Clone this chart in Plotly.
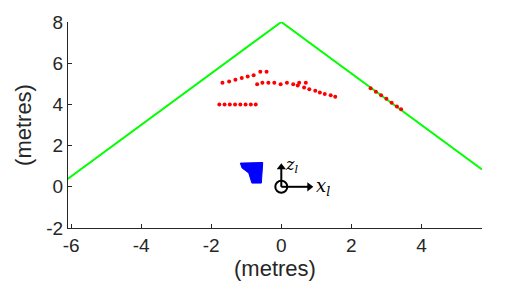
import plotly.graph_objects as go

# Green boundary line
wall_x = [-6.1, 0.0, 5.73]
wall_y = [0.38, 8.0, 0.84]

# Red points
arc1_x = [-1.68, -1.49, -1.31, -1.13, -0.96, -0.79, -0.60, -0.42]
arc1_y = [5.05, 5.11, 5.20, 5.28, 5.36, 5.42, 5.59, 5.59]
arc2_x = [-0.69, -0.54, -0.37, -0.20, -0.02, 0.16, 0.34, 0.51, 0.70,
          0.47, 0.65, 0.80, 0.97, 1.10, 1.24, 1.41, 1.54]
arc2_y = [4.98, 5.05, 5.05, 5.05, 4.98, 5.05, 4.98, 5.05, 5.05,
          4.92, 4.82, 4.74, 4.66, 4.58, 4.51, 4.45, 4.37]
row3_x = [-1.77, -1.62, -1.47, -1.32, -1.17, -1.02, -0.87, -0.73]
row3_y = [3.99, 3.99, 3.99, 3.99, 3.99, 3.99, 3.99, 3.99]
diag_x = [2.55, 2.70, 2.85, 3.00, 3.15, 3.30, 3.42]
diag_y = [4.78, 4.62, 4.45, 4.27, 4.08, 3.90, 3.76]

# Blue polygon
blob_x = [-1.17, -0.53, -0.57, -0.84, -0.93, -1.12, -1.17]
blob_y = [1.15, 1.18, 0.18, 0.18, 0.67, 0.91, 1.15]

# Local frame
frame_origin = (0.0, 0.0)
x_axis_tip = (0.80, 0.0)
z_axis_tip = (0.0, 0.95)

x_ticks = [-6, -4, -2, 0, 2, 4]
y_ticks = [-2, 0, 2, 4, 6, 8]

fig = go.Figure()
fig.add_trace(go.Scatter(x=wall_x, y=wall_y, mode="lines",
                         line=dict(color="#00ff00", width=2)))
for xs, ys in [(arc1_x, arc1_y), (arc2_x, arc2_y), (row3_x, row3_y), (diag_x, diag_y)]:
    fig.add_trace(go.Scatter(x=xs, y=ys, mode="markers",
                             marker=dict(color="#ff0000", size=4, symbol="circle",
                                         line=dict(width=0))))
fig.add_trace(go.Scatter(x=blob_x, y=blob_y, mode="lines", fill="toself",
                         fillcolor="#0000ff", line=dict(color="#0000ff", width=1)))

# Frame arrows
fig.add_trace(go.Scatter(x=[frame_origin[0], x_axis_tip[0]], y=[frame_origin[1], x_axis_tip[1]],
                         mode="lines", line=dict(color="black", width=2)))
fig.add_trace(go.Scatter(x=[frame_origin[0], z_axis_tip[0]], y=[frame_origin[1], z_axis_tip[1]],
                         mode="lines", line=dict(color="black", width=2)))
fig.add_trace(go.Scatter(x=[x_axis_tip[0]], y=[x_axis_tip[1]], mode="markers",
                         marker=dict(symbol="triangle-right", size=8, color="black")))
fig.add_trace(go.Scatter(x=[z_axis_tip[0]], y=[z_axis_tip[1]], mode="markers",
                         marker=dict(symbol="triangle-up", size=8, color="black")))
fig.add_trace(go.Scatter(x=[frame_origin[0]], y=[frame_origin[1]], mode="markers",
                         marker=dict(symbol="circle-open", size=12, color="black", line=dict(width=2))))
fig.add_annotation(x=0.92, y=-0.02, xref="x", yref="y", showarrow=False, xanchor="left",
                   text="<i>x</i><sub><i>l</i></sub>",
                   font=dict(family="DejaVu Serif", size=18, color="black"))
fig.add_annotation(x=0.05, y=1.02, xref="x", yref="y", showarrow=False, xanchor="left",
                   text="<i>z</i><sub><i>l</i></sub>",
                   font=dict(family="DejaVu Serif", size=16, color="black"))

axis_common = dict(showgrid=False, zeroline=False, showline=True, linecolor="#262626",
                   linewidth=1, ticks="inside", ticklen=4, tickcolor="#262626",
                   tickfont=dict(family="Liberation Sans", size=19, color="#262626"),
                   title_font=dict(family="Liberation Sans", size=22, color="#262626"),
                   mirror=False)

fig.update_layout(
    width=532, height=296,
    margin=dict(l=68, r=50, t=22, b=68),
    paper_bgcolor="white", plot_bgcolor="white",
    showlegend=False,
    xaxis=dict(range=[-6.09, 5.73], tickvals=x_ticks, ticktext=[str(v) for v in x_ticks],
               title=dict(text="(metres)", standoff=4), **axis_common),
    yaxis=dict(range=[-2, 8], tickvals=y_ticks, ticktext=[str(v) for v in y_ticks],
               title=dict(text="(metres)", standoff=8), **axis_common),
)

fig.write_html("out.html")
